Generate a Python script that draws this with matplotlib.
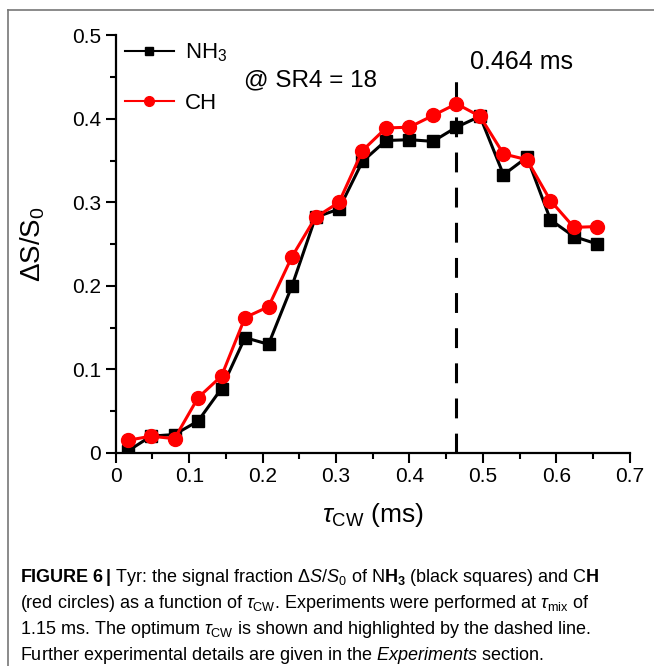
import matplotlib
matplotlib.use('Agg')
import matplotlib.pyplot as plt
from matplotlib.lines import Line2D
from matplotlib.ticker import MultipleLocator, FuncFormatter

plt.rcParams['font.family'] = ['Liberation Sans', 'DejaVu Sans']
plt.rcParams['mathtext.fontset'] = 'custom'
plt.rcParams['mathtext.rm'] = 'Liberation Sans'
plt.rcParams['mathtext.it'] = 'Liberation Sans:italic'
plt.rcParams['mathtext.bf'] = 'Liberation Sans:bold'

# tau_CW values (ms)
tau_cw = [0.016, 0.048, 0.080, 0.112, 0.144, 0.176, 0.208, 0.240, 0.272, 0.304, 0.336,
          0.368, 0.400, 0.432, 0.464, 0.496, 0.528, 0.560, 0.592, 0.624, 0.656]
nh3 = [0.002, 0.020, 0.022, 0.038, 0.077, 0.138, 0.130, 0.200, 0.282, 0.292, 0.349,
       0.374, 0.375, 0.373, 0.390, 0.403, 0.333, 0.354, 0.279, 0.259, 0.250]
ch = [0.015, 0.020, 0.017, 0.066, 0.092, 0.162, 0.175, 0.235, 0.282, 0.300, 0.362,
      0.389, 0.390, 0.404, 0.418, 0.403, 0.358, 0.351, 0.302, 0.270, 0.271]
optimum = 0.464

fig = plt.figure(figsize=(6.54, 6.66), dpi=100)
ax = fig.add_axes([0.177, 0.320, 0.786, 0.627])

ax.plot([optimum, optimum], [0, 0.445], color='black', lw=2.2, linestyle=(0, (6.5, 5)))
ax.plot(tau_cw, nh3, color='black', lw=2.2, marker='s', markersize=8.5)
ax.plot(tau_cw, ch, color='#ff0000', lw=2.2, marker='o', markersize=10)

ax.set_xlim(0, 0.7)
ax.set_ylim(0, 0.5)
ax.xaxis.set_major_locator(MultipleLocator(0.1))
ax.xaxis.set_minor_locator(MultipleLocator(0.05))
ax.yaxis.set_major_locator(MultipleLocator(0.1))
ax.yaxis.set_minor_locator(MultipleLocator(0.05))
fmt = FuncFormatter(lambda v, p: '0' if abs(v) < 1e-9 else f'{v:.1f}')
ax.xaxis.set_major_formatter(fmt)
ax.yaxis.set_major_formatter(fmt)
ax.tick_params(which='major', direction='out', length=7, width=1.5, labelsize=15)
ax.tick_params(which='minor', direction='out', length=4, width=1.5)
for s in ['top', 'right']:
    ax.spines[s].set_visible(False)
for s in ['left', 'bottom']:
    ax.spines[s].set_linewidth(1.6)

ax.set_ylabel(r'ΔS/S$_{\mathit{0}}$', fontsize=20)
ax.yaxis.set_label_coords(-0.134, 0.5)
ax.set_xlabel(r'$\tau_{\rm CW}$ (ms)', fontsize=19)
ax.xaxis.set_label_coords(0.5, -0.115)

# legend with small markers like the original
handles = [Line2D([], [], color='black', lw=1.5, marker='s', markersize=6),
           Line2D([], [], color='#ff0000', lw=1.5, marker='o', markersize=7)]
ax.legend(handles, ['NH$_3$', 'CH'], loc='upper left', bbox_to_anchor=(0.0175, 0.985),
          frameon=False, fontsize=16, handlelength=2.2, labelspacing=1.3,
          handletextpad=0.5, borderpad=0, borderaxespad=0)
ax.text(0.174, 0.446, '@ SR4 = 18', fontsize=17.5, va='center', ha='left')
ax.text(0.482, 0.468, '0.464 ms', fontsize=18, va='center', ha='left')

# caption
lines = [
    r'$\mathbf{FIGURE\ 6\,|}$ Tyr: the signal fraction $\mathit{\Delta S/S}_0$ of N$\mathbf{H_3}$ (black squares) and C$\mathbf{H}$',
    r'(red circles) as a function of $\tau_{\rm CW}$. Experiments were performed at $\tau_{\rm mix}$ of',
    r'1.15 ms. The optimum $\tau_{\rm CW}$ is shown and highlighted by the dashed line.',
    r'Further experimental details are given in the $\mathit{Experiments}$ section.',
]
for i, t in enumerate(lines):
    fig.text(20 / 654, 1 - (577 + 26 * i) / 666, t, fontsize=13, va='center', ha='left')

# frame around figure panel
fig.add_artist(Line2D([8 / 654, 8 / 654], [0, 1 - 10 / 666], transform=fig.transFigure, color='#777777', lw=1.2))
fig.add_artist(Line2D([8 / 654, 1], [1 - 10 / 666, 1 - 10 / 666], transform=fig.transFigure, color='#777777', lw=1.2))

fig.savefig('out.png', dpi=100)
